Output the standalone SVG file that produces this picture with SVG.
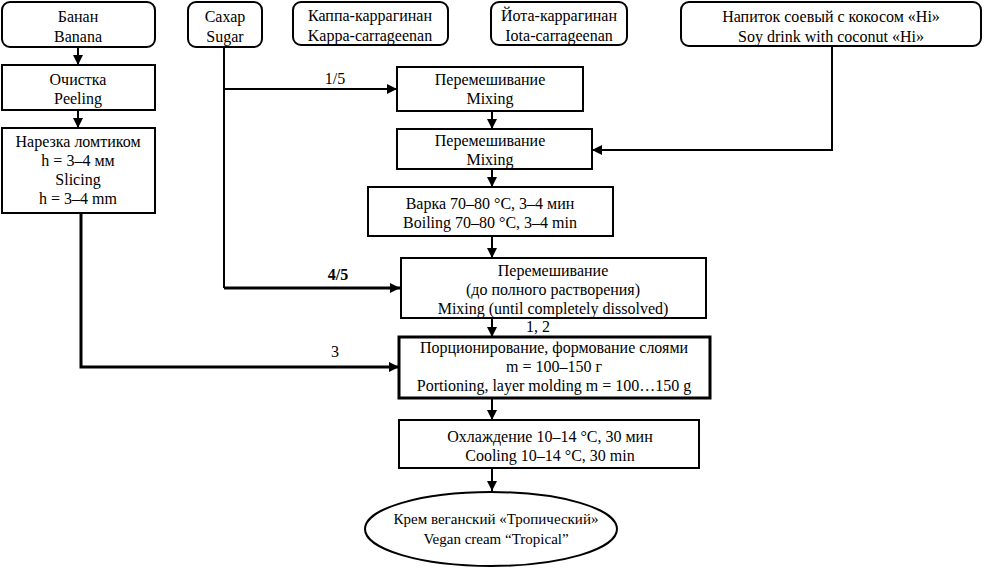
<svg xmlns="http://www.w3.org/2000/svg" width="984" height="568" viewBox="0 0 984 568" font-family="Liberation Serif, Times New Roman, DejaVu Serif, serif">
<defs>
<marker id="ah" viewBox="0 0 10 10" refX="10" refY="5" markerWidth="10" markerHeight="10" markerUnits="userSpaceOnUse" orient="auto">
<path d="M0,0 L10,5 L0,10 Z" fill="#000"/>
</marker>
<style>
.b{fill:#fff;stroke:#000;stroke-width:2}
.t{font-size:16px;fill:#000;text-anchor:middle}
.s{font-size:15px}
.c{fill:none;stroke:#000;stroke-width:2}
.k{fill:none;stroke:#000;stroke-width:3}
</style>
</defs>
<rect width="984" height="568" fill="#fff"/>
<g id="connectors">
<path class="c" d="M78,47 V65" marker-end="url(#ah)"/>
<path class="c" d="M78,110 V128" marker-end="url(#ah)"/>
<path class="c" d="M224,47 V288"/>
<path class="c" d="M224,89 H397" marker-end="url(#ah)"/>
<path class="k" d="M224,288 H400" marker-end="url(#ah)"/>
<path class="c" d="M832,46 V150 H592" marker-end="url(#ah)"/>
<path class="k" d="M81,213 V367 H399" marker-end="url(#ah)"/>
<path class="c" d="M492,111 V129" marker-end="url(#ah)"/>
<path class="c" d="M492,169 V187" marker-end="url(#ah)"/>
<path class="c" d="M492,236 V258" marker-end="url(#ah)"/>
<path class="c" d="M492,318 V337" marker-end="url(#ah)"/>
<path class="c" d="M492,398 V420" marker-end="url(#ah)"/>
<path class="c" d="M492,468 V491" marker-end="url(#ah)"/>
<text class="t" x="335" y="84">1/5</text>
<text class="t" x="338" y="280" font-weight="bold">4/5</text>
<text class="t" x="335" y="357">3</text>
<text class="t" x="538" y="332">1, 2</text>
</g>
<g id="banana"><rect class="b" x="2" y="2" width="153" height="45" rx="8"/><text class="t" x="78" y="22">Банан</text><text class="t" x="78" y="42">Banana</text></g>
<g id="sugar"><rect class="b" x="188" y="2" width="74" height="45" rx="8"/><text class="t" x="225" y="22">Сахар</text><text class="t" x="225" y="42">Sugar</text></g>
<g id="kappa"><rect class="b" x="293" y="2" width="155" height="43" rx="8"/><text class="t" x="370" y="21">Каппа-каррагинан</text><text class="t" x="370" y="41">Kappa-carrageenan</text></g>
<g id="iota"><rect class="b" x="491" y="2" width="136" height="43" rx="8"/><text class="t" x="559" y="21">Йота-каррагинан</text><text class="t" x="559" y="41">Iota-carrageenan</text></g>
<g id="soy"><rect class="b" x="681" y="2" width="300" height="44" rx="8"/><text class="t" x="831" y="22">Напиток соевый с кокосом «Hi»</text><text class="t" x="831" y="42">Soy drink with coconut «Hi»</text></g>
<g id="peeling"><rect class="b" x="2" y="65" width="153" height="45"/><text class="t" x="78" y="85">Очистка</text><text class="t" x="78" y="104">Peeling</text></g>
<g id="slicing"><rect class="b" x="2" y="128" width="153" height="85"/><text class="t" x="78" y="147">Нарезка ломтиком</text><text class="t" x="78" y="166">h = 3–4 мм</text><text class="t" x="78" y="185">Slicing</text><text class="t" x="78" y="204">h = 3–4 mm</text></g>
<g id="mixing1"><rect class="b" x="397" y="67" width="186" height="44"/><text class="t" x="490" y="85">Перемешивание</text><text class="t" x="490" y="104">Mixing</text></g>
<g id="mixing2"><rect class="b" x="397" y="129" width="195" height="40"/><text class="t" x="490" y="146">Перемешивание</text><text class="t" x="490" y="165">Mixing</text></g>
<g id="boiling"><rect class="b" x="368" y="187" width="245" height="49"/><text class="t" x="490" y="209">Варка 70–80 °С, 3–4 мин</text><text class="t" x="490" y="228">Boiling 70–80 °C, 3–4 min</text></g>
<g id="mixing3"><rect class="b" x="401" y="258" width="305" height="60"/><text class="t" x="553" y="276">Перемешивание</text><text class="t" x="553" y="295">(до полного растворения)</text><text class="t" x="553" y="314">Mixing (until completely dissolved)</text></g>
<g id="portioning"><rect class="k" x="399" y="337" width="311" height="61"/><text class="t" x="554" y="353">Порционирование, формование слоями</text><text class="t" x="554" y="372">m = 100–150 г</text><text class="t" x="554" y="391">Portioning, layer molding m = 100…150 g</text></g>
<g id="cooling"><rect class="b" x="399" y="420" width="300" height="48"/><text class="t" x="550" y="442">Охлаждение 10–14 °С, 30 мин</text><text class="t" x="550" y="461">Cooling 10–14 °C, 30 min</text></g>
<g id="product"><ellipse class="b" cx="491" cy="529" rx="126" ry="37"/><text class="t s" x="496" y="524">Крем веганский «Тропический»</text><text class="t s" x="496" y="544">Vegan cream “Tropical”</text></g>
</svg>
